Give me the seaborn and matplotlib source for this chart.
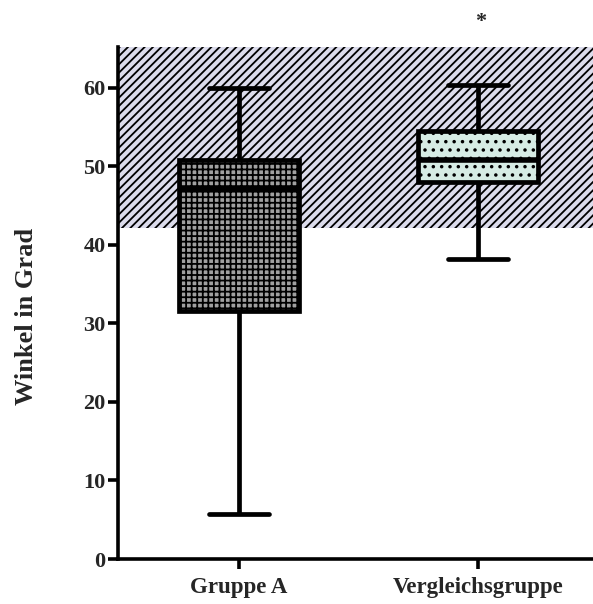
import numpy as np
import pandas as pd
import seaborn as sns
import matplotlib
matplotlib.use("Agg")
import matplotlib.pyplot as plt

# Data: five-number summaries (min, Q1, median, Q3, max)
categories = ["Gruppe A", "Vergleichsgruppe"]
gruppe_a = [5.7, 31.6, 47.1, 50.8, 60.0]
vergleich = [38.2, 48.0, 50.8, 54.5, 60.4]
normal_range = (42.2, 65.2)
y_ticks = [0, 10, 20, 30, 40, 50, 60]
y_label = "Winkel in Grad"
significance = "*"

sns.set_theme(style="white")
plt.rcParams["font.family"] = ["Liberation Serif", "DejaVu Serif"]
plt.rcParams["font.weight"] = "bold"
plt.rcParams["hatch.linewidth"] = 1.3

df = pd.DataFrame({
    "group": [categories[0]] * len(gruppe_a) + [categories[1]] * len(vergleich),
    "value": gruppe_a + vergleich,
})

fig = plt.figure(figsize=(5.93, 6.04), dpi=100)
ax = fig.add_axes([0.199, 0.0745, 0.801, 0.8475])

ax.axhspan(normal_range[0], normal_range[1], facecolor="#dcdcec",
           edgecolor="black", linewidth=0, hatch="////", zorder=0)

sns.boxplot(data=df, x="group", y="value", hue="group", palette=["#a0a0a0", "#d6ece4"],
            saturation=1, whis=(0, 100), width=0.5, linewidth=3.4, linecolor="black",
            medianprops={"linewidth": 4.0, "color": "black"},
            legend=False, ax=ax, zorder=2)

box_patches = [p for p in ax.patches if isinstance(p, matplotlib.patches.PathPatch)]
hatches = ["+++", ".."]
for p, h in zip(box_patches, hatches):
    p.set_hatch(h)
    p.set_edgecolor("black")

ax.set_xlim(-0.506, 1.48)
ax.set_ylim(0, 65.2)
ax.set_yticks(y_ticks)
ax.set_xlabel("")
ax.set_ylabel(y_label, fontsize=19, fontweight="bold")
ax.yaxis.set_label_coords(-0.168, 0.473)

for side in ["top", "right"]:
    ax.spines[side].set_visible(False)
for side in ["left", "bottom"]:
    ax.spines[side].set_linewidth(2.6)
    ax.spines[side].set_color("black")

ax.tick_params(axis="both", which="major", direction="out", length=7, width=2.6,
               color="black", left=True, bottom=True)
ax.tick_params(axis="y", labelsize=16, pad=2)
ax.tick_params(axis="x", labelsize=16.5, pad=6)
for lbl in ax.get_xticklabels() + ax.get_yticklabels():
    lbl.set_fontweight("bold")

ax.text(1.01, 68.4, significance, ha="center", va="center", fontsize=16,
        fontweight="bold", clip_on=False)

fig.savefig("out.png", dpi=100)
